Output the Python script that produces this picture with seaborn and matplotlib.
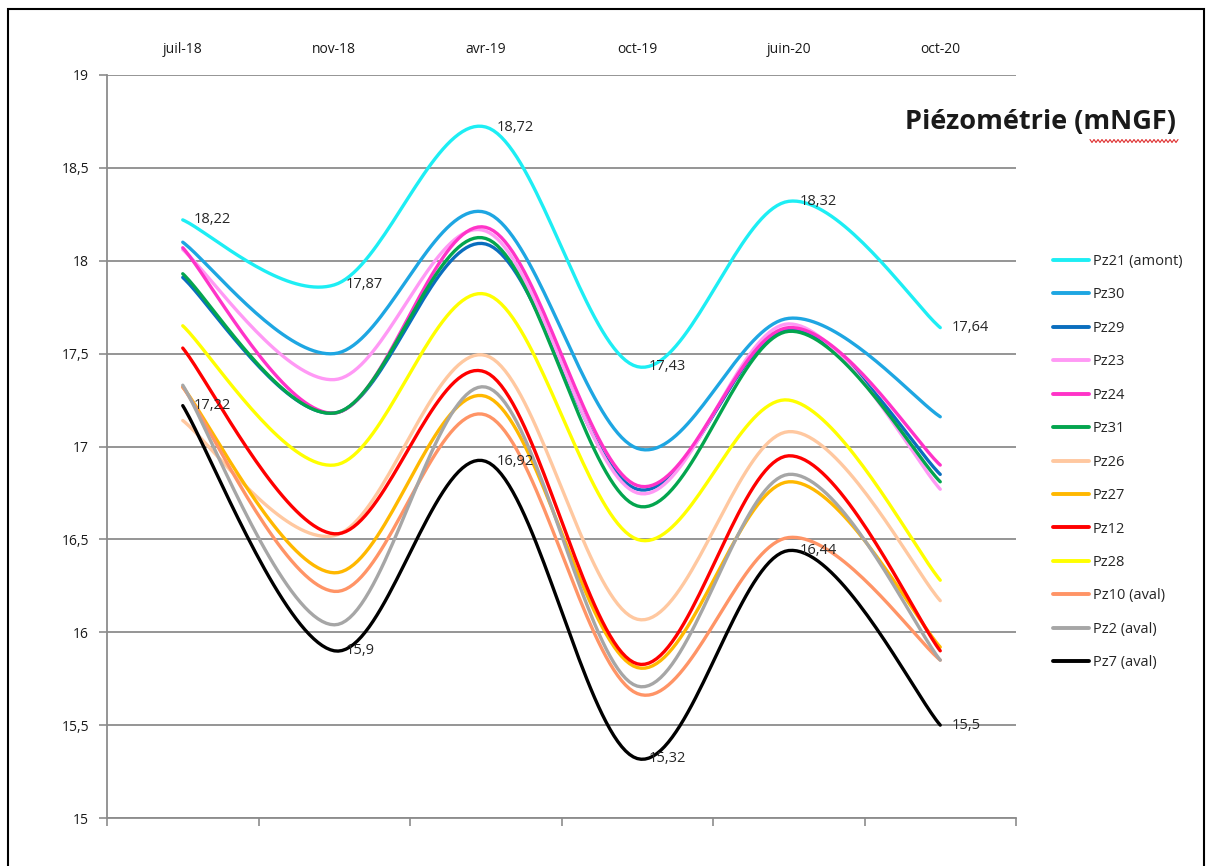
import numpy as np
import pandas as pd
import matplotlib
matplotlib.use("Agg")
import matplotlib.pyplot as plt
from matplotlib.lines import Line2D
from matplotlib.patches import Rectangle
import seaborn as sns

dates = ["juil-18", "nov-18", "avr-19", "oct-19", "juin-20", "oct-20"]

pz21 = [18.22, 17.87, 18.72, 17.43, 18.32, 17.64]
pz30 = [18.10, 17.50, 18.26, 16.99, 17.69, 17.16]
pz29 = [17.91, 17.18, 18.09, 16.77, 17.63, 16.85]
pz23 = [18.06, 17.36, 18.16, 16.75, 17.66, 16.77]
pz24 = [18.07, 17.18, 18.18, 16.79, 17.64, 16.90]
pz31 = [17.93, 17.18, 18.12, 16.68, 17.62, 16.81]
pz26 = [17.14, 16.52, 17.49, 16.07, 17.08, 16.17]
pz27 = [17.32, 16.32, 17.27, 15.81, 16.81, 15.92]
pz12 = [17.53, 16.53, 17.40, 15.83, 16.95, 15.90]
pz28 = [17.65, 16.90, 17.82, 16.50, 17.25, 16.28]
pz10 = [17.32, 16.22, 17.17, 15.67, 16.51, 15.85]
pz2 = [17.33, 16.04, 17.32, 15.71, 16.85, 15.85]
pz7 = [17.22, 15.90, 16.92, 15.32, 16.44, 15.50]

series_names = ["Pz21 (amont)", "Pz30", "Pz29", "Pz23", "Pz24", "Pz31", "Pz26",
                "Pz27", "Pz12", "Pz28", "Pz10 (aval)", "Pz2 (aval)", "Pz7 (aval)"]
series_values = [pz21, pz30, pz29, pz23, pz24, pz31, pz26, pz27, pz12, pz28, pz10, pz2, pz7]
colors = ["#1DEEF4", "#1EA6E2", "#0A6EBE", "#FF99F5", "#FF33C8", "#03A54E", "#FFC8A0",
          "#FFB800", "#FF0000", "#FFFF00", "#FF9466", "#A6A6A6", "#000000"]
labelled = {"Pz21 (amont)": pz21, "Pz7 (aval)": pz7}


def smooth(vals, n=40):
    # Excel-like smoothed line: Catmull-Rom Bezier through the points
    p = np.column_stack([np.arange(len(vals), dtype=float), np.asarray(vals, float)])
    ext = np.vstack([p[0], p, p[-1]])
    xs, ys = [], []
    t = np.linspace(0, 1, n)[:, None]
    for i in range(len(p) - 1):
        p0, p1, p2, p3 = ext[i], ext[i + 1], ext[i + 2], ext[i + 3]
        c1 = p1 + (p2 - p0) / 6
        c2 = p2 - (p3 - p1) / 6
        b = (1 - t) ** 3 * p1 + 3 * (1 - t) ** 2 * t * c1 + 3 * (1 - t) * t ** 2 * c2 + t ** 3 * p2
        xs.append(b[:, 0])
        ys.append(b[:, 1])
    return np.concatenate(xs), np.concatenate(ys)


rows = []
for name, vals in zip(series_names, series_values):
    sx, sy = smooth(vals)
    rows.append(pd.DataFrame({"serie": name, "x": sx, "y": sy}))
df = pd.concat(rows, ignore_index=True)

sns.set_theme(style="white")
plt.rcParams["font.family"] = ["Open Sans", "DejaVu Sans"]

fig = plt.figure(figsize=(12.11, 8.66), dpi=100)
ax = fig.add_axes([107 / 1211, 1 - 818 / 866, (1016 - 107) / 1211, (818 - 75) / 866])

sns.lineplot(data=df, x="x", y="y", hue="serie", hue_order=series_names,
             palette=dict(zip(series_names, colors)), sort=False, estimator=None,
             units="serie", lw=2.4, legend=False, ax=ax)

for name, vals in labelled.items():
    for i, v in enumerate(vals):
        ax.annotate(f"{v:g}".replace(".", ","), (i, v), xytext=(8, 0),
                    textcoords="offset points", va="center", ha="left",
                    fontsize=10.5, color="#262626")

ax.set_xlim(-0.5, 5.5)
ax.set_ylim(15, 19)
ax.set_yticks(np.arange(15, 19.01, 0.5))
ax.set_yticklabels([f"{v:g}".replace(".", ",") for v in np.arange(15, 19.01, 0.5)])
ax.set_xticks(range(len(dates)))
ax.set_xticklabels(dates)
ax.set_xticks(np.arange(-0.5, 5.6, 1), minor=True)
ax.tick_params(axis="x", which="major", top=False, bottom=False, labeltop=True,
               labelbottom=False, length=0, pad=13, labelsize=10, labelcolor="#1a1a1a")
ax.tick_params(axis="x", which="minor", bottom=True, length=6, width=1.2,
               color="#8c8c8c", direction="out")
ax.tick_params(axis="y", left=True, length=6, width=1.2, color="#8c8c8c",
               direction="out", pad=7, labelsize=10, labelcolor="#1a1a1a")
ax.set_xlabel("")
ax.set_ylabel("")
ax.grid(axis="y", color="#8c8c8c", lw=1.3)
ax.set_axisbelow(True)
for s in ["top", "right"]:
    ax.spines[s].set_visible(False)
for s in ["left", "bottom"]:
    ax.spines[s].set_color("#8c8c8c")
    ax.spines[s].set_linewidth(1.3)

handles = [Line2D([], [], color=c, lw=2.8) for c in colors]
fig.legend(handles, series_names, loc="upper left", bbox_to_anchor=(1053 / 1211, 1 - 254 / 866),
           frameon=False, fontsize=10.5, handlelength=2.5, handletextpad=0.25,
           labelspacing=1.265, borderpad=0, borderaxespad=0)

fig.text(905 / 1211, 1 - 122 / 866, "Piézométrie (mNGF)", fontsize=19.5, fontweight="bold",
         ha="left", va="center", color="#1a1a1a")

# red spell-check squiggle under "mNGF"
wx = np.linspace(1090, 1178, 45)
wy = 141 + 1.5 * np.where(np.arange(45) % 2 == 0, -1, 1)
fig.add_artist(Line2D(wx / 1211, 1 - wy / 866, color="#E03030", lw=0.8,
                      transform=fig.transFigure))

fig.add_artist(Rectangle((8 / 1211, -0.02), (1204 - 8) / 1211, 1 - 9 / 866 + 0.02,
                         transform=fig.transFigure, fill=False, ec="black", lw=1.5))

fig.savefig("out.png", dpi=100)
